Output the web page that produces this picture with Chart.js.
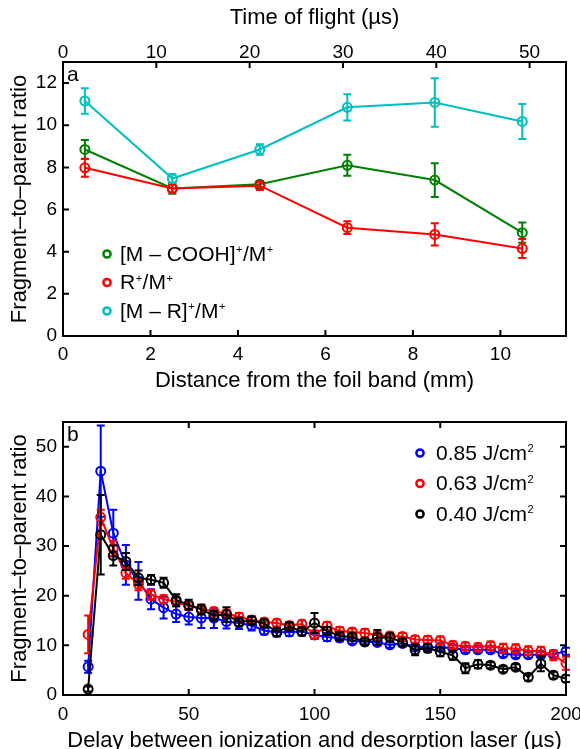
<!DOCTYPE html>
<html>
<head>
<meta charset="utf-8">
<script src="https://cdn.jsdelivr.net/npm/chart.js@4.4.1/dist/chart.umd.min.js"></script>
<style>
	html, body { margin: 0; padding: 0; background: #fff; overflow: hidden; }
	#wrap { position: relative; width: 580px; height: 749px; }
	canvas { position: absolute; left: 0; }
	#chart-a { top: 0; }
	#chart-b { top: 385px; }
</style>
</head>
<body>
<div id="wrap">
	<canvas id="chart-a" width="580" height="395"></canvas>
	<canvas id="chart-b" width="580" height="368"></canvas>
</div>
<script>
(function () {
	'use strict';

	/*
	| Data — panel a (ratio vs distance from the foil band)
	*/
	var distMm    = [0.5, 2.5, 4.5, 6.5, 8.5, 10.5];
	var coohRatio = [8.85, 7.0, 7.2, 8.1, 7.4, 4.9];
	var coohErr   = [0.45, 0.25, 0.15, 0.5, 0.8, 0.48];
	var rRatio    = [7.98, 7.0, 7.13, 5.14, 4.82, 4.15];
	var rErr      = [0.43, 0.2, 0.2, 0.3, 0.53, 0.45];
	var mrRatio   = [11.15, 7.47, 8.85, 10.85, 11.08, 10.18];
	var mrErr     = [0.6, 0.2, 0.25, 0.62, 1.15, 0.83];
	var labelsA   = ['[M \u2013 COOH]\u207A/M\u207A', 'R\u207A/M\u207A', '[M \u2013 R]\u207A/M\u207A'];

	/*
	| Data — panel b (ratio vs delay, three fluences)
	*/
	var delayUs = [10, 15, 20, 25, 30, 35, 40, 45, 50, 55, 60, 65, 70, 75, 80, 85, 90, 95, 100,
		105, 110, 115, 120, 125, 130, 135, 140, 145, 150, 155, 160, 165, 170, 175, 180, 185, 190, 195, 200];
	var f085 = [5.7, 45.1, 32.6, 26.2, 23.0, 19.3, 17.6, 16.3, 15.7, 15.5, 15.5, 14.8, 14.5, 14.0, 13.0, 12.6, 12.7, 12.8, 12.1,
		11.7, 11.5, 10.9, 10.8, 10.6, 10.1, 10.4, 9.7, 9.6, 9.6, 9.4, 9.1, 9.1, 9.1, 8.3, 8.1, 8.1, 8.1, 8.2, 8.8];
	var f085Err = [1.2, 9.2, 4.7, 4.0, 3.8, 2.0, 2.2, 1.6, 1.5, 2.0, 2.0, 1.4, 1.2, 1.0, 0.8, 0.8, 0.8, 0.8, 0.8,
		0.8, 0.7, 0.6, 0.6, 0.6, 0.6, 0.6, 0.6, 0.6, 0.6, 0.6, 0.6, 0.6, 0.6, 0.6, 0.6, 0.6, 0.6, 0.6, 0.7];
	var f063 = [12.2, 35.8, 29.5, 24.6, 22.3, 20.2, 19.3, 18.8, 17.9, 17.4, 16.8, 16.4, 15.7, 15.1, 14.7, 14.5, 14.0, 14.3, 12.2,
		13.9, 12.9, 12.7, 12.5, 12.0, 11.9, 11.8, 11.2, 11.1, 11.0, 10.0, 9.8, 9.6, 9.9, 9.4, 9.3, 8.9, 8.8, 8.0, 6.4];
	var f063Err = [3.8, 1.5, 1.5, 1.2, 1.2, 1.0, 0.8, 0.8, 0.8, 0.8, 0.8, 0.8, 0.8, 0.7, 0.7, 0.7, 0.7, 0.7, 0.8,
		0.8, 0.8, 0.7, 0.8, 0.7, 0.7, 0.7, 0.7, 0.8, 0.8, 0.8, 0.8, 0.8, 0.9, 0.9, 0.9, 0.9, 0.9, 1.0, 1.3];
	var f040 = [1.2, 32.3, 28.1, 26.9, 23.6, 23.2, 22.6, 19.1, 18.2, 17.2, 16.0, 16.2, 14.7, 15.0, 14.4, 12.7, 13.8, 12.8, 14.5,
		12.9, 11.9, 11.7, 10.7, 11.6, 11.6, 10.6, 9.1, 9.4, 8.7, 8.0, 5.4, 6.2, 6.0, 5.2, 5.6, 3.6, 6.3, 4.0, 3.3];
	var f040Err = [0.5, 8.0, 2.0, 1.7, 1.5, 1.0, 1.0, 1.2, 1.0, 1.0, 1.0, 1.5, 0.8, 0.8, 0.8, 0.8, 0.8, 0.8, 2.0,
		0.8, 0.8, 0.7, 0.7, 1.5, 0.8, 0.8, 1.1, 0.8, 0.9, 0.9, 1.0, 0.8, 0.6, 0.6, 0.6, 0.7, 1.5, 0.7, 0.7];
	var labelsB = ['0.85 J/cm\u00B2', '0.63 J/cm\u00B2', '0.40 J/cm\u00B2'];

	var COLORS = {
		green: '#008000',
		red:   '#ff0000',
		cyan:  '#00bfbf',
		blue:  '#0000ff',
		black: '#000000'
	};

	var FONT = "'Liberation Sans', Arial, Helvetica, sans-serif";
	var TICK_SIZE = 19;
	var TITLE_SIZE = 22;
	var LEGEND_SIZE = 21;
	var CAP = 4;

	Chart.defaults.font.family = FONT;
	Chart.defaults.color = '#000';

	/*
	| Helpers
	*/
	function points(xs, ys) {
		return xs.map(function (x, i) { return { x: x, y: ys[i] }; });
	}

	function series(label, xs, ys, errs, color, order) {
		return {
			label: label,
			data: points(xs, ys),
			errors: errs,
			borderColor: color,
			backgroundColor: color,
			borderWidth: 2,
			pointStyle: 'circle',
			pointRadius: 4.5,
			pointBorderWidth: 2,
			pointBackgroundColor: 'rgba(0,0,0,0)',
			pointBorderColor: color,
			tension: 0,
			order: order
		};
	}

	// Fixed axis box sizes so the plot area lands where the figure has it.
	function fixSize(prop, size) {
		return function (scale) {
			scale[prop] = size;
			scale.paddingLeft = 0;
			scale.paddingRight = 0;
			scale.paddingTop = 0;
			scale.paddingBottom = 0;
		};
	}

	var SUPERS = { '\u207A': '+', '\u00B2': '2' };

	// Draws text with small raised glyphs for superscript characters.
	function drawRich(ctx, text, x, y, size) {
		var cx = x;
		Array.from(text).forEach(function (ch) {
			if (SUPERS[ch]) {
				ctx.font = Math.round(size * 0.52) + 'px ' + FONT;
				ctx.fillText(SUPERS[ch], cx + 0.5, y - size * 0.22);
				cx += ctx.measureText(SUPERS[ch]).width + 1;
			} else {
				ctx.font = size + 'px ' + FONT;
				ctx.fillText(ch, cx, y);
				cx += ctx.measureText(ch).width;
			}
		});
	}

	/*
	| Plugins
	*/
	var errorBars = {
		id: 'errorBars',
		afterDatasetDraw: function (chart, args) {
			var ds = chart.data.datasets[args.index];
			if (!ds.errors) return;
			var yScale = chart.scales[args.meta.yAxisID];
			var ctx = chart.ctx;
			ctx.save();
			ctx.strokeStyle = ds.borderColor;
			ctx.lineWidth = 2;
			args.meta.data.forEach(function (pt, i) {
				var v = ds.data[i].y;
				var e = ds.errors[i];
				var top = yScale.getPixelForValue(v + e);
				var bot = yScale.getPixelForValue(v - e);
				ctx.beginPath();
				ctx.moveTo(pt.x, top);
				ctx.lineTo(pt.x, bot);
				ctx.moveTo(pt.x - CAP, top);
				ctx.lineTo(pt.x + CAP, top);
				ctx.moveTo(pt.x - CAP, bot);
				ctx.lineTo(pt.x + CAP, bot);
				ctx.stroke();
			});
			ctx.restore();
		}
	};

	// Box round the plot plus inward tick marks, legend and panel letter.
	var frame = {
		id: 'frame',
		afterDraw: function (chart, args, opts) {
			var ctx = chart.ctx;
			var a = chart.chartArea;
			ctx.save();
			ctx.strokeStyle = '#000';
			ctx.lineWidth = 2;
			ctx.beginPath();
			(opts.marks || []).forEach(function (m) {
				var scale = chart.scales[m.scale];
				scale.ticks.forEach(function (t) {
					var p = scale.getPixelForValue(t.value);
					m.edges.forEach(function (edge) {
						if (edge === 'bottom') { ctx.moveTo(p, a.bottom); ctx.lineTo(p, a.bottom - 6); }
						if (edge === 'top')    { ctx.moveTo(p, a.top);    ctx.lineTo(p, a.top + 6); }
						if (edge === 'left')   { ctx.moveTo(a.left, p);   ctx.lineTo(a.left + 6, p); }
						if (edge === 'right')  { ctx.moveTo(a.right, p);  ctx.lineTo(a.right - 6, p); }
					});
				});
			});
			ctx.stroke();
			ctx.strokeRect(a.left, a.top, a.right - a.left, a.bottom - a.top);

			// Panel letter.
			ctx.fillStyle = '#000';
			ctx.textBaseline = 'middle';
			ctx.textAlign = 'left';
			ctx.font = LEGEND_SIZE + 'px ' + FONT;
			ctx.fillText(opts.letter, a.left + 4, a.top + 13);

			// Legend.
			var lg = opts.legend;
			chart.data.datasets.forEach(function (ds, i) {
				var mx = (lg.fromRight ? a.right - lg.x : a.left + lg.x);
				var my = a.top + lg.y + i * lg.gap;
				ctx.beginPath();
				ctx.lineWidth = 2.5;
				ctx.strokeStyle = ds.borderColor;
				ctx.arc(mx, my, 3.6, 0, Math.PI * 2);
				ctx.stroke();
				ctx.fillStyle = '#000';
				drawRich(ctx, ds.label, mx + lg.textGap, my + 1, LEGEND_SIZE);
			});
			ctx.restore();
		}
	};

	var tickFont = { size: TICK_SIZE };
	var titleFont = { size: TITLE_SIZE };

	/*
	| Panel a
	*/
	new Chart(document.getElementById('chart-a'), {
		type: 'line',
		data: {
			datasets: [
				series(labelsA[0], distMm, coohRatio, coohErr, COLORS.green, 2),
				series(labelsA[1], distMm, rRatio, rErr, COLORS.red, 1),
				series(labelsA[2], distMm, mrRatio, mrErr, COLORS.cyan, 0)
			]
		},
		options: {
			responsive: false,
			animation: false,
			layout: { padding: { left: 0, right: 14, top: 0, bottom: 0 } },
			scales: {
				x: {
					type: 'linear',
					position: 'bottom',
					min: 0,
					max: 11.5,
					afterFit: fixSize('height', 59),
					grid: { display: false, drawTicks: false },
					border: { display: false },
					ticks: { stepSize: 2, includeBounds: false, font: tickFont, padding: 7, maxRotation: 0 },
					title: { display: true, text: 'Distance from the foil band (mm)', font: titleFont, padding: { top: 0, bottom: 1 } }
				},
				x2: {
					type: 'linear',
					position: 'top',
					display: true,
					min: 0,
					max: 53.9,
					afterFit: fixSize('height', 62),
					grid: { display: false, drawTicks: false },
					border: { display: false },
					ticks: { stepSize: 10, includeBounds: false, font: tickFont, padding: -2, maxRotation: 0 },
					title: { display: true, text: 'Time of flight (\u00B5s)', font: titleFont, padding: { top: 5, bottom: 0 } }
				},
				y: {
					min: 0,
					max: 13,
					afterFit: fixSize('width', 63),
					grid: { display: false, drawTicks: false },
					border: { display: false },
					ticks: { stepSize: 2, includeBounds: false, font: tickFont, padding: 6 },
					title: { display: true, text: 'Fragment\u2013to\u2013parent ratio', font: titleFont, padding: { top: 7, bottom: 0 } }
				}
			},
			plugins: {
				legend: { display: false },
				tooltip: { enabled: false },
				frame: {
					letter: 'a',
					marks: [
						{ scale: 'x', edges: ['bottom'] },
						{ scale: 'x2', edges: ['top'] },
						{ scale: 'y', edges: ['left'] }
					],
					legend: { x: 44, y: 192, gap: 28.5, textGap: 13 }
				}
			}
		},
		plugins: [errorBars, frame]
	});

	/*
	| Panel b
	*/
	new Chart(document.getElementById('chart-b'), {
		type: 'line',
		data: {
			datasets: [
				series(labelsB[0], delayUs, f085, f085Err, COLORS.blue, 2),
				series(labelsB[1], delayUs, f063, f063Err, COLORS.red, 1),
				series(labelsB[2], delayUs, f040, f040Err, COLORS.black, 0)
			]
		},
		options: {
			responsive: false,
			animation: false,
			layout: { padding: { left: 0, right: 14, top: 37, bottom: 0 } },
			scales: {
				x: {
					type: 'linear',
					position: 'bottom',
					min: 0,
					max: 200,
					afterFit: fixSize('height', 58),
					grid: { display: false, drawTicks: false },
					border: { display: false },
					ticks: { stepSize: 50, includeBounds: false, font: tickFont, padding: 8, maxRotation: 0 },
					title: { display: true, text: 'Delay between ionization and desorption laser (\u00B5s)', font: titleFont, padding: { top: 0, bottom: -1 } }
				},
				y: {
					min: 0,
					max: 55,
					afterFit: fixSize('width', 63),
					grid: { display: false, drawTicks: false },
					border: { display: false },
					ticks: { stepSize: 10, includeBounds: false, font: tickFont, padding: 6 },
					title: { display: true, text: 'Fragment\u2013to\u2013parent ratio', font: titleFont, padding: { top: 7, bottom: 0 } }
				}
			},
			plugins: {
				legend: { display: false },
				tooltip: { enabled: false },
				frame: {
					letter: 'b',
					marks: [
						{ scale: 'x', edges: ['bottom', 'top'] },
						{ scale: 'y', edges: ['left', 'right'] }
					],
					legend: { x: 146, y: 31, gap: 30.5, textGap: 16, fromRight: true }
				}
			}
		},
		plugins: [errorBars, frame]
	});
})();
</script>
</body>
</html>
